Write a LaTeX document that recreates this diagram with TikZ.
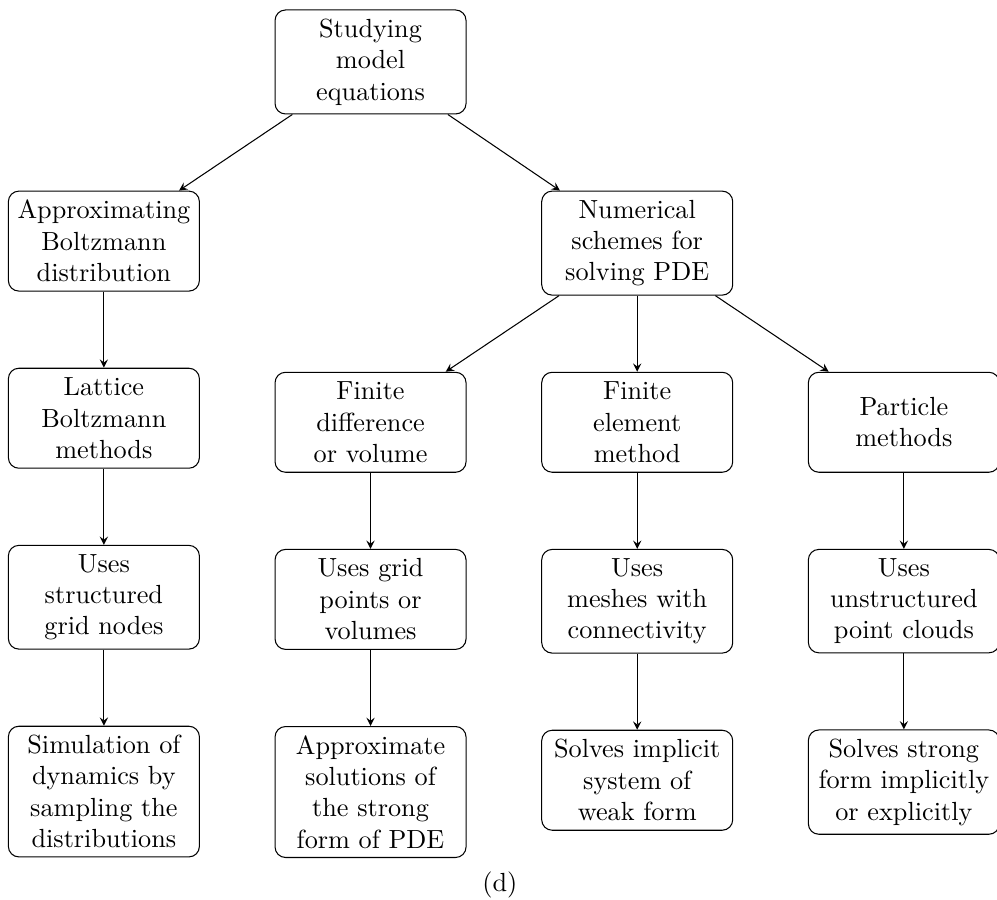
\documentclass[tikz,border=0pt]{standalone}
\usetikzlibrary{positioning,calc}
\begin{document}
\begin{tikzpicture}[node distance=1.02cm and 1cm,>=stealth,
  block/.style={draw,rounded corners,align=center,minimum width=2.56cm,minimum height=1.34cm}]
\node[block](study){Studying\\model\\equations};
\node[block,below left=of study](approx){Approximating\\Boltzmann\\distribution};
\node[block,below right=of study](numer){Numerical\\schemes for\\solving PDE};
\node[block,below=of approx](lattice){Lattice\\Boltzmann\\methods};
\node[block,below left=of numer](findiff){Finite\\difference\\or volume};
\node[block,below=of numer](finel){Finite\\element\\method};
\node[block,below right=of numer](particle){Particle\\methods};
\node[block,below=of lattice](gridnodes){Uses\\structured\\grid nodes};
\node[block,below=of findiff](gridpts){Uses grid\\points or\\volumes};
\node[block,below=of finel](meshes){Uses\\meshes with\\connectivity};
\node[block,below=of particle](clouds){Uses\\unstructured\\point clouds};
\node[block,below=of gridnodes](sampling){Simulation of\\dynamics by\\sampling the\\distributions};
\node[block,below=of gridpts](strong){Approximate\\solutions of\\the strong\\form of PDE};
\node[block,below=of meshes](weak){Solves implicit\\system of\\weak form};
\node[block,below=of clouds](explicit){Solves strong\\form implicitly\\or explicitly};
\foreach \a/\b in {study/approx,study/numer,approx/lattice,numer/findiff,numer/finel,numer/particle,lattice/gridnodes,findiff/gridpts,finel/meshes,particle/clouds,gridnodes/sampling,gridpts/strong,meshes/weak,clouds/explicit}{\draw[->](\a)--(\b);}
\node(caption) at ($(findiff.east|-sampling.south)!0.5!(finel.west|-sampling.south)+(-1.5pt,-10.5pt)$){(d)};
\pgfresetboundingbox
\useasboundingbox($(approx.west|-study.north)+(-3pt,3.6pt)$) rectangle ($(particle.east|-caption.center)+(-1.1pt,-5.7pt)$);
\end{tikzpicture}
\end{document}
